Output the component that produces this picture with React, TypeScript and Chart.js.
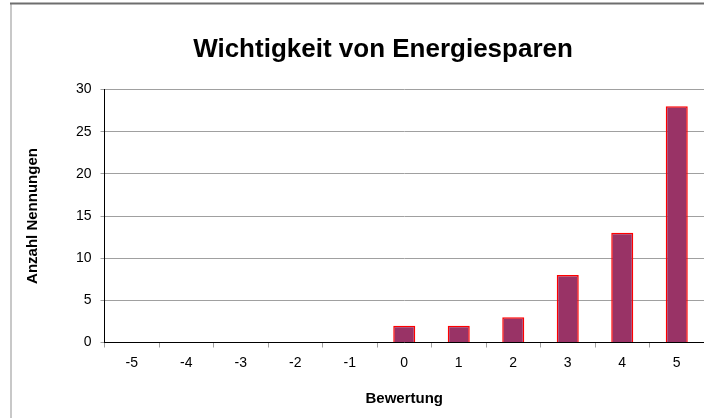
import React, { useEffect, useRef } from "react";
import { Chart, registerables } from "chart.js";

Chart.register(...registerables);

const categories = ["-5", "-4", "-3", "-2", "-1", "0", "1", "2", "3", "4", "5"];
const counts = [0, 0, 0, 0, 0, 2, 2, 3, 8, 13, 28];
const yTickValues = [0, 5, 10, 15, 20, 25, 30];
const chartTitle = "Wichtigkeit von Energiesparen";
const xAxisTitle = "Bewertung";
const yAxisTitle = "Anzahl Nennungen";

const FONT = "'Liberation Sans', Arial, sans-serif";

const framePlugin = {
  id: "frameAndTitle",
  beforeDraw(chart: any) {
    const ctx = chart.ctx;
    ctx.save();
    ctx.fillStyle = "#ffffff";
    ctx.fillRect(0, 0, chart.width, chart.height);
    ctx.strokeStyle = "#c8c8c8";
    ctx.lineWidth = 2;
    ctx.beginPath();
    ctx.moveTo(11, 3);
    ctx.lineTo(11, chart.height);
    ctx.stroke();
    ctx.strokeStyle = "#6e6e6e";
    ctx.lineWidth = 2;
    ctx.beginPath();
    ctx.moveTo(10, 3.5);
    ctx.lineTo(chart.width, 3.5);
    ctx.stroke();
    ctx.restore();
  },
  afterDraw(chart: any) {
    const ctx = chart.ctx;
    ctx.save();
    ctx.fillStyle = "#000000";
    ctx.font = `bold 26px ${FONT}`;
    ctx.textAlign = "center";
    ctx.textBaseline = "alphabetic";
    ctx.fillText(chartTitle, 383, 57);
    ctx.restore();
  },
};

export default function App() {
  const ref = useRef<HTMLCanvasElement | null>(null);

  useEffect(() => {
    if (!ref.current) return;
    const chart = new Chart(ref.current, {
      type: "bar",
      data: {
        labels: categories,
        datasets: [
          {
            data: counts,
            backgroundColor: "#993366",
            borderColor: "#ff0000",
            borderWidth: 1.5,
            borderSkipped: "bottom",
            barPercentage: 0.404,
            categoryPercentage: 1,
          },
        ],
      },
      options: {
        animation: false,
        responsive: false,
        devicePixelRatio: 1,
        layout: { padding: { top: 89.5, left: 0, right: 0, bottom: 0 } },
        plugins: {
          legend: { display: false },
          tooltip: { enabled: false },
          title: { display: false },
        },
        scales: {
          x: {
            grid: {
              display: true,
              drawOnChartArea: false,
              drawTicks: true,
              tickLength: 5,
              offset: true,
              color: "#a0a0a0",
            },
            border: { display: true, color: "#000000", width: 1 },
            ticks: {
              color: "#000000",
              font: { family: FONT, size: 14 },
              padding: 7,
              maxRotation: 0,
            },
            title: {
              display: true,
              text: xAxisTitle,
              color: "#000000",
              font: { family: FONT, size: 15, weight: "bold" },
              padding: { top: 0, bottom: 10 },
            },
            afterFit: (scale: any) => {
              scale.height = 75.5;
            },
          },
          y: {
            min: 0,
            max: 30,
            afterBuildTicks: (scale: any) => {
              scale.ticks = yTickValues.map((v) => ({ value: v }));
            },
            grid: {
              display: true,
              drawTicks: true,
              tickLength: 4,
              color: "#a0a0a0",
            },
            border: { display: true, color: "#000000", width: 1 },
            ticks: {
              color: "#000000",
              font: { family: FONT, size: 14 },
              padding: 9,
            },
            title: {
              display: true,
              text: yAxisTitle,
              color: "#000000",
              font: { family: FONT, size: 15, weight: "bold" },
              padding: { top: 24, bottom: 0 },
            },
            afterFit: (scale: any) => {
              scale.width = 104.5;
            },
          },
        },
      },
      plugins: [framePlugin],
    });
    return () => chart.destroy();
  }, []);

  return (
    <div style={{ position: "absolute", left: 0, top: 0, width: 704, height: 418 }}>
      <canvas ref={ref} width={704} height={418} style={{ display: "block" }} />
    </div>
  );
}
